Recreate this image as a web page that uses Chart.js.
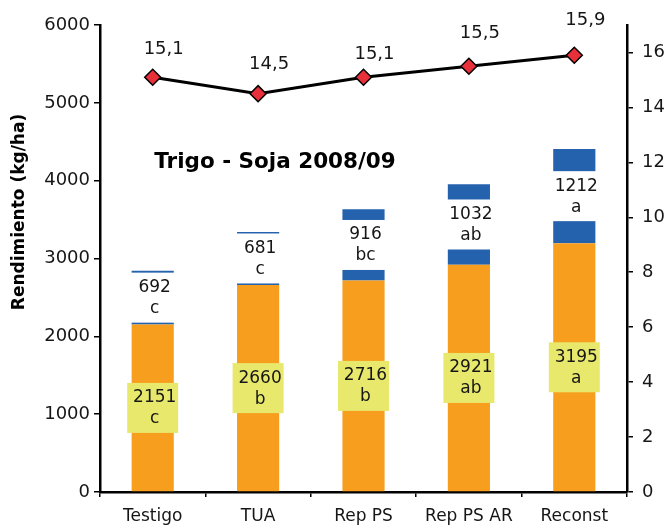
<!DOCTYPE html>
<html>
<head>
<meta charset="utf-8">
<script src="https://cdn.jsdelivr.net/npm/chart.js@4"></script>
<style>
  html, body { margin: 0; padding: 0; background: #ffffff; }
  #wrap { width: 670px; height: 526px; }
</style>
</head>
<body>
<div id="wrap"><canvas id="c" width="670" height="526"></canvas></div>
<script>
// Rendimiento de trigo y soja por tratamiento, campaña 2008/09
const categories   = ['Testigo', 'TUA', 'Rep PS', 'Rep PS AR', 'Reconst'];
const trigo        = [2151, 2660, 2716, 2921, 3195];
const trigoLetras  = ['c', 'b', 'b', 'ab', 'a'];
const soja         = [692, 681, 916, 1032, 1212];
const sojaLetras   = ['c', 'c', 'bc', 'ab', 'a'];
const linea        = [15.1, 14.5, 15.1, 15.5, 15.9];
const ticksIzq     = [0, 1000, 2000, 3000, 4000, 5000, 6000];
const ticksDer     = [0, 2, 4, 6, 8, 10, 12, 14, 16];

// label placement for the line values (pixels above each marker)
const elevacionEtiqueta = [28, 29, 23, 33, 35];

const FONT = "'DejaVu Sans', sans-serif";
const NARANJA = '#F79E1F';
const AZUL = '#2462AE';
const AMARILLO = '#E8E86C';
const ROJO = '#E8303B';
const TEXTO = '#161616';

const coma = v => v.toFixed(1).replace('.', ',');

const etiquetas = {
  id: 'etiquetas',
  afterDatasetsDraw(chart) {
    const ctx = chart.ctx;
    const mT = chart.getDatasetMeta(0);
    const mS = chart.getDatasetMeta(1);
    const mL = chart.getDatasetMeta(2);
    ctx.save();
    ctx.textAlign = 'center';
    ctx.textBaseline = 'middle';
    for (let i = 0; i < categories.length; i++) {
      ctx.font = '17px ' + FONT;
      // trigo: yellow box centred on the orange segment
      const bt = mT.data[i];
      const cy = (bt.y + bt.base) / 2;
      ctx.fillStyle = AMARILLO;
      ctx.fillRect(bt.x - 25.5, cy - 25, 51, 50);
      ctx.fillStyle = TEXTO;
      ctx.fillText(String(trigo[i]), bt.x + 2, cy - 10);
      ctx.fillText(trigoLetras[i], bt.x + 2, cy + 11);

      // soja: white box centred on the blue segment
      const bs = mS.data[i];
      const cy2 = (bs.y + bs.base) / 2;
      ctx.fillStyle = '#ffffff';
      ctx.fillRect(bs.x - 26, cy2 - 25, 52, 50);
      ctx.fillStyle = TEXTO;
      ctx.fillText(String(soja[i]), bs.x + 2, cy2 - 10);
      ctx.fillText(sojaLetras[i], bs.x + 2, cy2 + 11);

      // line values
      const p = mL.data[i];
      ctx.font = '18px ' + FONT;
      ctx.fillText(coma(linea[i]), p.x + 11, p.y - elevacionEtiqueta[i]);
    }

    // chart title
    ctx.font = 'bold 21.5px ' + FONT;
    ctx.fillStyle = '#000';
    ctx.fillText('Trigo - Soja 2008/09', 275, 162);

    // left axis title
    ctx.translate(20, 212);
    ctx.rotate(-Math.PI / 2);
    ctx.font = 'bold 17px ' + FONT;
    ctx.fillText('Rendimiento (kg/ha)', 0, 0);
    ctx.restore();
  }
};

new Chart(document.getElementById('c'), {
  data: {
    labels: categories,
    datasets: [
      {
        type: 'bar',
        label: 'Trigo',
        data: trigo,
        backgroundColor: NARANJA,
        yAxisID: 'y',
        stack: 'rend',
        order: 2,
        categoryPercentage: 1,
        barPercentage: 0.4
      },
      {
        type: 'bar',
        label: 'Soja',
        data: soja,
        backgroundColor: AZUL,
        yAxisID: 'y',
        stack: 'rend',
        order: 2,
        categoryPercentage: 1,
        barPercentage: 0.4
      },
      {
        type: 'line',
        label: 'Serie',
        data: linea,
        yAxisID: 'y1',
        borderColor: '#000',
        borderWidth: 3,
        pointStyle: 'rectRot',
        pointRadius: 8,
        pointBackgroundColor: ROJO,
        pointBorderColor: '#000',
        pointBorderWidth: 1.5,
        tension: 0,
        order: 0
      }
    ]
  },
  options: {
    responsive: false,
    animation: false,
    devicePixelRatio: 1,
    layout: { padding: { top: 25, left: 0, right: 0, bottom: 0 } },
    plugins: {
      legend: { display: false },
      tooltip: { enabled: false }
    },
    scales: {
      x: {
        stacked: true,
        offset: true,
        grid: { display: true, drawOnChartArea: false, drawTicks: true, tickLength: 5, offset: true, color: '#000', lineWidth: 1.5 },
        border: { display: true, color: '#000', width: 2.5 },
        ticks: { color: TEXTO, font: { family: FONT, size: 17 }, padding: 9, maxRotation: 0 },
        afterFit(s) { s.height = 34; }
      },
      y: {
        stacked: true,
        position: 'left',
        min: 0,
        max: 6000,
        afterBuildTicks(s) { s.ticks = ticksIzq.map(v => ({ value: v })); },
        grid: { display: true, drawOnChartArea: false, drawTicks: true, tickLength: 6, color: '#000', lineWidth: 1.5 },
        border: { display: true, color: '#000', width: 2.5 },
        ticks: { color: TEXTO, font: { family: FONT, size: 18 }, padding: 4, callback: v => String(v) },
        afterFit(s) { s.width = 100; }
      },
      y1: {
        position: 'right',
        min: 0,
        max: 17,
        afterBuildTicks(s) { s.ticks = ticksDer.map(v => ({ value: v })); },
        grid: { display: true, drawOnChartArea: false, drawTicks: true, tickLength: 6, color: '#000', lineWidth: 1.5 },
        border: { display: true, color: '#000', width: 2.5 },
        ticks: { color: TEXTO, font: { family: FONT, size: 18 }, padding: 9, callback: v => String(v) },
        afterFit(s) { s.width = 43; }
      }
    }
  },
  plugins: [etiquetas]
});
</script>
</body>
</html>
